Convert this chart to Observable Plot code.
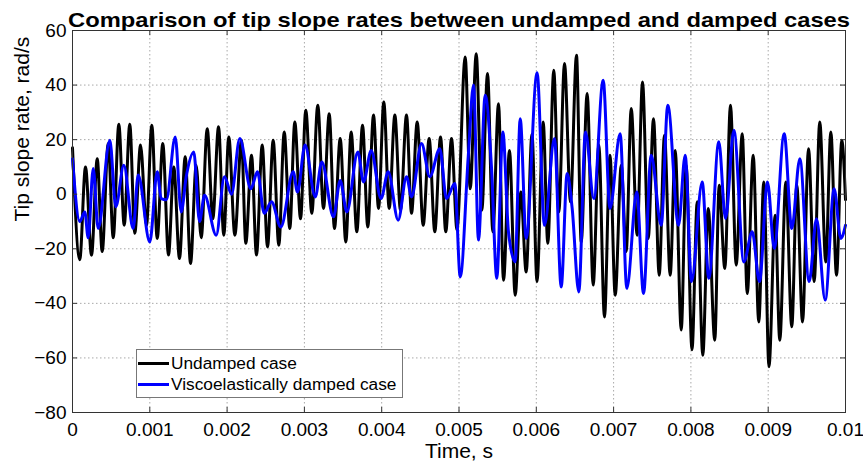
<!DOCTYPE html>
<html><head><meta charset="utf-8">
<script src="https://cdn.jsdelivr.net/npm/d3@7"></script>
<script src="https://cdn.jsdelivr.net/npm/@observablehq/plot@0.6"></script>
<style>
body{margin:0;background:#fff;}
#wrap{position:relative;width:863px;height:469px;font-family:"Liberation Sans",Arial,sans-serif;}
#legend{position:absolute;left:136px;top:349px;width:265px;height:47px;border:1px solid #777;background:#fff;}
.row{position:absolute;left:1px;height:20px;display:flex;align-items:center;font-size:17.3px;color:#000;white-space:nowrap;}
.sw{width:31px;height:3px;margin-right:2px;}
</style></head>
<body>
<div id="wrap"></div>
<script>
const title = "Comparison of tip slope rates between undamped and damped cases";
const xLabel = "Time, s";
const yLabel = "Tip slope rate, rad/s";
const seriesNames = ["Undamped case", "Viscoelastically damped case"];
const xTicks = [0, 0.001, 0.002, 0.003, 0.004, 0.005, 0.006, 0.007, 0.008, 0.009, 0.01];
const xTickLabels = ["0", "0.001", "0.002", "0.003", "0.004", "0.005", "0.006", "0.007", "0.008", "0.009", "0.01"];
const yTicks = [-80, -60, -40, -20, 0, 20, 40, 60];

// Undamped case (times in ms)
const undampedTimeMs = [0, 0.094, 0.168, 0.246, 0.320, 0.384, 0.462, 0.527, 0.599, 0.669,
  0.741, 0.806, 0.880, 0.957, 1.026, 1.096, 1.168, 1.242, 1.310, 1.384,
  1.458, 1.527, 1.600, 1.665, 1.743, 1.815, 1.889, 1.957, 2.022, 2.100,
  2.186, 2.242, 2.316, 2.380, 2.454, 2.523, 2.596, 2.669, 2.739, 2.811,
  2.876, 2.950, 3.018, 3.096, 3.173, 3.247, 3.321, 3.389, 3.463, 3.536,
  3.605, 3.678, 3.752, 3.820, 3.894, 3.959, 4.027, 4.097, 4.170, 4.243,
  4.321, 4.386, 4.459, 4.537, 4.614, 4.687, 4.761, 4.829, 4.903, 4.974,
  5.080, 5.145, 5.223, 5.295, 5.369, 5.438, 5.511, 5.576, 5.653, 5.727,
  5.800, 5.869, 5.944, 6.009, 6.089, 6.149, 6.226, 6.291, 6.365, 6.442,
  6.520, 6.581, 6.658, 6.736, 6.809, 6.882, 6.953, 7.021, 7.099, 7.163,
  7.228, 7.305, 7.374, 7.448, 7.516, 7.590, 7.658, 7.732, 7.797, 7.875,
  7.939, 8.014, 8.082, 8.154, 8.224, 8.309, 8.366, 8.439, 8.512, 8.586,
  8.664, 8.729, 8.806, 8.878, 8.943, 9.010, 9.090, 9.150, 9.228, 9.305,
  9.370, 9.444, 9.522, 9.595, 9.667, 9.745, 9.810, 9.884, 9.952, 10.0];
const undampedValue = [17, -24, 10, -22.4, 13, -21, 18.6, -16, 25.6, -11.4,
  25.6, -14.3, 18, -11.4, 25.3, -16.2, 18.6, -22.3, 10, -23.6,
  13.7, -25.4, 10.6, -16, 24, -9, 24.7, -15, 21, -15,
  19.8, -18, 14.3, -22.3, 18, -19.3, 19.8, -18.7, 22.8, -12.6,
  26.5, -9, 30.8, -7, 32.6, -5.2, 29.5, -12.6, 20.4, -17.5,
  22.8, -13.8, 25.3, -12, 29, -5.2, 33.8, -5.2, 29, -5.9,
  29, -7, 26.5, -11.4, 20.4, -13.8, 21, -13.8, 20.4, -13,
  50.3, 2, 51.5, -5.9, 44.2, -13.8, 33.2, -31.5, 16, -37,
  0.8, -28.5, 22, -32, 26.5, -18, 45.4, -6.5, 47.9, -2.8,
  50.9, -17.5, 36.9, -33.3, 18, -45, 14.3, -37, 10.6, -21,
  31.4, -15, 41.1, -16.2, 27.7, -29.7, 21.6, -29.7, 16, -49.8,
  10.6, -57, -2.8, -59, -5.2, -53.5, 3.3, -27.2, 32.6, -26,
  22.2, -36.4, 14.3, -46.8, 4.5, -63.2, -7.7, -53.5, 4.5, -48.6,
  3.3, -46.8, 16.7, -32, 26.5, -24.8, 22.8, -29.7, 19.8, -2];

// Viscoelastically damped case (times in ms)
const dampedTimeMs = [0, 0.094, 0.159, 0.203, 0.268, 0.332, 0.483, 0.560, 0.664, 0.785,
  0.850, 1.000, 1.096, 1.147, 1.215, 1.329, 1.406, 1.471, 1.569, 1.643,
  1.708, 1.859, 1.966, 2.057, 2.164, 2.307, 2.393, 2.480, 2.574, 2.695,
  2.855, 2.911, 3.008, 3.140, 3.225, 3.376, 3.463, 3.549, 3.691, 3.765,
  3.864, 3.991, 4.084, 4.213, 4.321, 4.386, 4.515, 4.622, 4.752, 4.838,
  4.946, 5.016, 5.120, 5.188, 5.252, 5.339, 5.420, 5.489, 5.567, 5.640,
  5.727, 5.792, 5.869, 6.010, 6.106, 6.235, 6.322, 6.399, 6.464, 6.550,
  6.636, 6.744, 6.865, 6.953, 7.085, 7.171, 7.300, 7.387, 7.486, 7.616,
  7.701, 7.840, 7.926, 8.008, 8.146, 8.232, 8.361, 8.448, 8.556, 8.685,
  8.793, 8.887, 8.991, 9.078, 9.207, 9.305, 9.409, 9.530, 9.625, 9.737,
  9.853, 9.939, 10.0];
const dampedValue = [13, -10, -6.5, -16, 9.4, -12.6, 19.8, -4.6, 10.6, -12.6,
  7, -17.5, 8.2, -1.6, -2, 21, -6.5, 6.4, 15.5, -10,
  -0.4, -15, 6.4, 0, 20.4, 2, 8.2, -7, -2.8, -12,
  8.2, 0.8, 18, -1, 11.8, -8.3, 5, -6.5, 15.5, 4.5,
  16, -1.6, 8.2, -9.5, 6.4, -1, 18.6, 6.4, 16.7, -1.6,
  3.9, -30.3, 14, 40, -16.8, 36.3, 10, -30.8, 22.8, -13.8,
  -24.8, 27.7, -16.2, 44.5, -11.4, 20.4, -34, 7.6, -5.2, -35.8,
  22.8, -1.6, 41.8, -5.2, 22.2, -34.5, 0.8, -36.4, 14.3, -11.4,
  32.6, -11.4, 14.3, -32, 4.5, -30.8, 19.2, -9, 23.4, -24.8,
  -13.8, -32, 4.5, -19.9, 22.2, -12.6, 13, -32, -9, -38.8,
  2, -16.2, -11.4];

const undamped = undampedTimeMs.map((t, i) => ({t: t / 1000, v: undampedValue[i]}));
const damped = dampedTimeMs.map((t, i) => ({t: t / 1000, v: dampedValue[i]}));

const frameW = 863 - 72 - 18, frameH = 469 - 30 - 57, tickLen = 5;
const gridStyle = {stroke: "#a8a8a8", strokeOpacity: 1, strokeWidth: 1, strokeDasharray: "1.5,2.5"};

const chart = Plot.plot({
  width: 863, height: 469,
  marginTop: 30, marginBottom: 57, marginLeft: 72, marginRight: 18,
  style: {fontFamily: "Liberation Sans, Arial, sans-serif", fontSize: "19px", color: "#000", background: "#fff", overflow: "visible"},
  x: {domain: [0, 0.01]},
  y: {domain: [-80, 60]},
  marks: [
    Plot.gridX(xTicks, gridStyle),
    Plot.gridY(yTicks, gridStyle),
    Plot.line(undamped, {x: "t", y: "v", stroke: "#000", strokeWidth: 3, curve: "monotone-x"}),
    Plot.line(damped, {x: "t", y: "v", stroke: "#0000ff", strokeWidth: 3, curve: "monotone-x"}),
    Plot.frame({stroke: "#333"}),
    Plot.tickX(xTicks, {x: d => d, stroke: "#333", insetTop: frameH - tickLen}),
    Plot.tickX(xTicks, {x: d => d, stroke: "#333", insetBottom: frameH - tickLen}),
    Plot.tickY(yTicks, {y: d => d, stroke: "#333", insetRight: frameW - tickLen}),
    Plot.tickY(yTicks, {y: d => d, stroke: "#333", insetLeft: frameW - tickLen}),
    Plot.axisX(xTicks, {tickSize: 0, tickPadding: 10, label: null, fontSize: 19,
      tickFormat: d => xTickLabels[xTicks.indexOf(d)]}),
    Plot.axisY(yTicks, {tickSize: 0, tickPadding: 6, label: null, fontSize: 19}),
    Plot.text([title], {frameAnchor: "top", dy: -18, fontSize: 20.5, fontWeight: "bold", fill: "#000"}),
    Plot.text([xLabel], {frameAnchor: "bottom", dy: 45, fontSize: 21, fill: "#000"}),
    Plot.text([yLabel], {frameAnchor: "left", dx: -50, rotate: -90, fontSize: 21, fill: "#000"})
  ]
});

// stretch the title horizontally like the reference
chart.querySelectorAll("text").forEach(el => {
  if (el.textContent === title) {
    el.setAttribute("textLength", "782");
    el.setAttribute("lengthAdjust", "spacingAndGlyphs");
  }
});

const wrap = document.getElementById("wrap");
wrap.appendChild(chart);
const legend = document.createElement("div");
legend.id = "legend";
const colors = ["#000", "#0000ff"];
seriesNames.forEach((name, i) => {
  const row = document.createElement("div");
  row.className = "row";
  row.style.top = (3 + i * 21) + "px";
  const sw = document.createElement("span");
  sw.className = "sw";
  sw.style.background = colors[i];
  const tx = document.createElement("span");
  tx.textContent = name;
  row.appendChild(sw);
  row.appendChild(tx);
  legend.appendChild(row);
});
wrap.appendChild(legend);
</script>
</body></html>
